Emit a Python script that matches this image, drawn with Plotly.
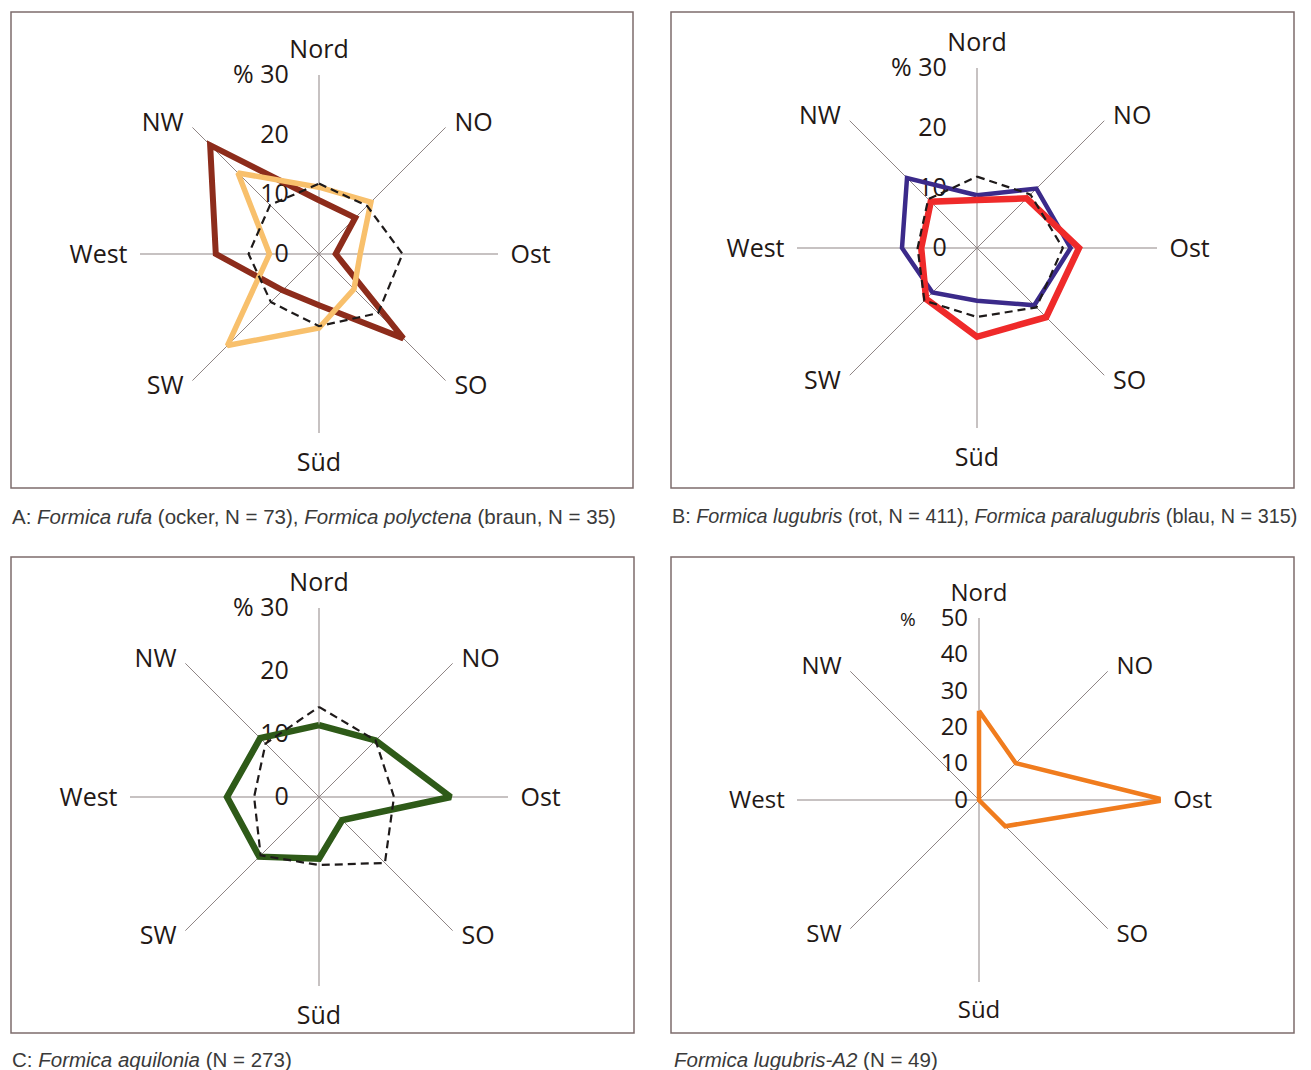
import plotly.graph_objects as go

# ---------------- data ----------------
directions = ["Nord", "NO", "Ost", "SO", "Süd", "SW", "West", "NW"]

# Panel A
rufa = [11.2, 12.3, 6.9, 8.3, 12.4, 21.7, 8.3, 19.2]          # ocker
polyctena = [9.0, 8.6, 2.8, 20.0, 8.6, 8.6, 17.3, 25.8]       # braun
ref_a = [11.8, 11.4, 14.0, 14.0, 12.1, 11.4, 11.8, 11.6]      # gestrichelt

# Panel B
lugubris = [8.0, 11.7, 17.0, 16.3, 14.8, 12.0, 9.3, 10.9]     # rot
paralugubris = [8.8, 14.0, 15.6, 13.5, 8.8, 10.5, 12.5, 16.5] # blau
ref_b = [11.9, 12.6, 14.3, 14.0, 11.5, 12.4, 9.9, 11.5]

# Panel C
aquilonia = [11.4, 12.7, 20.9, 5.2, 9.8, 13.4, 14.6, 13.2]
ref_c = [14.3, 12.7, 11.9, 14.8, 10.8, 13.1, 10.3, 12.0]

# Panel D
lugubris_a2 = [24.5, 14.3, 51.0, 10.2, 0, 0, 0, 0]

ticks_30 = [0, 10, 20, 30]
ticktext_30 = ["0", "10", "20", "%\u00a030"]
ticks_50 = [0, 10, 20, 30, 40, 50]
ticktext_50 = ["0", "10", "20", "30", "40",
               "<span style='font-size:19px'>%</span>\u00a0\u00a0\u00a0\u00a050"]

captions = [
    "A: <i>Formica rufa</i> (ocker, N = 73), <i>Formica polyctena</i> (braun, N = 35)",
    "B: <i>Formica lugubris</i> (rot, N = 411), <i>Formica paralugubris</i> (blau, N = 315)",
    "C: <i>Formica aquilonia</i> (N = 273)",
    "<i>Formica lugubris-A2</i> (N = 49)",
]

# ---------------- layout helpers ----------------
W, H = 1311, 1070
TXT = "#231815"
GRID = "#8f8585"
NB = "\u00a0"


def closed(v):
    return list(v) + [v[0]]


theta = closed(directions)


def dir_label(name):
    # vertical fine-tuning of the diagonal direction labels (extra blank lines
    # shift plotly's multi-line angular tick labels)
    if name in ("NO", "NW"):
        return (NB + "<br>") * 2 + name
    if name in ("SO", "SW"):
        return name + ("<br>" + NB) * 4
    return name


dir_text = [dir_label(d) for d in directions]


def domain(cx, cy, r):
    return dict(x=[(cx - r) / W, (cx + r) / W],
                y=[1 - (cy + r) / H, 1 - (cy - r) / H])


def polar_cfg(cx, cy, r, rmax, tv, tt, rticklen, fsize):
    return dict(
        domain=domain(cx, cy, r),
        bgcolor="rgba(0,0,0,0)",
        angularaxis=dict(
            type="category", categoryorder="array", categoryarray=directions,
            rotation=90, direction="clockwise",
            tickmode="array", tickvals=directions, ticktext=dir_text,
            showgrid=True, gridcolor=GRID, gridwidth=1,
            showline=False, ticks="outside", ticklen=7,
            tickcolor="rgba(0,0,0,0)",
            tickfont=dict(family="Open Sans", size=fsize, color=TXT),
            layer="below traces",
        ),
        radialaxis=dict(
            range=[0, rmax], angle=90, side="counterclockwise",
            showgrid=False, showline=False,
            tickmode="array", tickvals=tv, ticktext=tt, tickangle=90,
            ticks="outside", ticklen=rticklen, tickcolor="rgba(0,0,0,0)",
            tickfont=dict(family="Open Sans", size=fsize, color=TXT),
            layer="below traces",
        ),
    )


fig = go.Figure()


def add(vals, sub, color, width, dash=None):
    fig.add_trace(go.Scatterpolar(
        r=closed(vals), theta=theta, subplot=sub, mode="lines",
        line=dict(color=color, width=width, dash=dash),
        cliponaxis=False, showlegend=False, hoverinfo="skip"))


DASH = "8px,5px"
add(polyctena, "polar", "#8d2c1b", 6)
add(rufa, "polar", "#f8c06c", 5.5)
add(ref_a, "polar", "#1e1a1a", 2.2, DASH)

add(paralugubris, "polar2", "#3b2a8a", 4.5)
add(lugubris, "polar2", "#ef2a2a", 6.5)
add(ref_b, "polar2", "#1e1a1a", 2.2, DASH)

add(aquilonia, "polar3", "#2e5a18", 6.5)
add(ref_c, "polar3", "#1e1a1a", 2.2, DASH)

add(lugubris_a2, "polar4", "#f07c1e", 4.5)

frames = [(11, 12, 633, 488), (671, 12, 1294, 488),
          (11, 557, 634, 1033), (671, 557, 1294, 1033)]
shapes = [dict(type="rect", xref="paper", yref="paper",
               x0=x0 / W, x1=x1 / W, y0=1 - y1 / H, y1=1 - y0 / H,
               line=dict(color="#7d6c6c", width=1.5), layer="below")
          for (x0, y0, x1, y1) in frames]

cap_pos = [(10, 516), (670, 516), (10, 1059), (672, 1059)]
cap_size = [20.5, 19.8, 20.5, 20.5]
annotations = [dict(text=t, xref="paper", yref="paper", x=px / W, y=1 - py / H,
                    xanchor="left", yanchor="middle", showarrow=False,
                    font=dict(family="Liberation Sans", size=s, color="#3a3a3a"))
               for t, (px, py), s in zip(captions, cap_pos, cap_size)]

fig.update_layout(
    width=W, height=H, autosize=False,
    margin=dict(l=0, r=0, t=0, b=0),
    paper_bgcolor="white", plot_bgcolor="white",
    polar=polar_cfg(319, 254, 179, 30, ticks_30, ticktext_30, 21, 25),
    polar2=polar_cfg(977, 248, 180, 30, ticks_30, ticktext_30, 21, 25),
    polar3=polar_cfg(319, 797, 189, 30, ticks_30, ticktext_30, 21, 25),
    polar4=polar_cfg(979, 800, 182, 50, ticks_50, ticktext_50, 2, 24),
    shapes=shapes, annotations=annotations,
)

fig.write_html("out.html", config={"displayModeBar": False},
               post_script="document.body.style.margin='0';")
